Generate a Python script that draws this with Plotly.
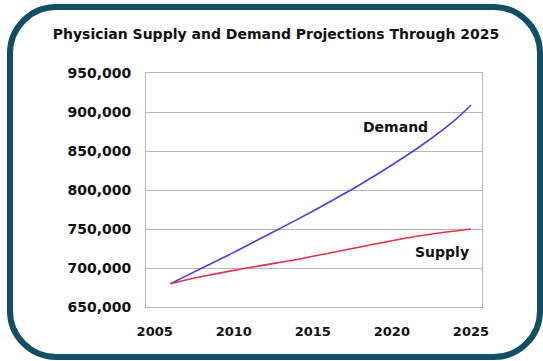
import plotly.graph_objects as go

years_demand = [2006, 2008, 2010, 2012, 2014, 2016, 2018, 2020, 2022, 2024, 2025]
demand = [680000, 700000, 720000, 741000, 762000, 784000, 807000, 832000, 859000, 890000, 909000]
years_supply = [2006, 2008, 2010, 2012, 2014, 2016, 2018, 2020, 2022, 2025]
supply = [680000, 689000, 697000, 704000, 711000, 719000, 727000, 735000, 742000, 750000]
x_ticks = [2005, 2010, 2015, 2020, 2025]
y_ticks = [650000, 700000, 750000, 800000, 850000, 900000, 950000]

W, H = 543, 361
L, R, T, B = 146, 482, 73, 307  # plot area in px

def px(x):
    return (x - L) / (R - L)

def py(y):
    return (B - y) / (B - T)

fig = go.Figure()
fig.add_trace(go.Scatter(x=years_demand, y=demand, mode="lines", line=dict(color="#4444e0", width=1.6, shape="spline", smoothing=1.0), name="Demand", showlegend=False))
fig.add_trace(go.Scatter(x=years_supply, y=supply, mode="lines", line=dict(color="#e83048", width=1.6, shape="spline", smoothing=1.0), name="Supply", showlegend=False))

font_fam = "DejaVu Sans, Verdana, sans-serif"
fig.add_annotation(x=2020.2, y=880500, text="<b>Demand</b>", showarrow=False, font=dict(family=font_fam, size=14, color="#111"))
fig.add_annotation(x=2023.2, y=720700, text="<b>Supply</b>", showarrow=False, font=dict(family=font_fam, size=14, color="#111"))

# rounded border
x0, y0, x1, y1, r = 10, 7, 540, 357, 46
k = 0.45
path = (
    f"M {px(x0+r)} {py(y0)} L {px(x1-r)} {py(y0)} "
    f"C {px(x1-r*k)} {py(y0)} {px(x1)} {py(y0+r*k)} {px(x1)} {py(y0+r)} "
    f"L {px(x1)} {py(y1-r)} "
    f"C {px(x1)} {py(y1-r*k)} {px(x1-r*k)} {py(y1)} {px(x1-r)} {py(y1)} "
    f"L {px(x0+r)} {py(y1)} "
    f"C {px(x0+r*k)} {py(y1)} {px(x0)} {py(y1-r*k)} {px(x0)} {py(y1-r)} "
    f"L {px(x0)} {py(y0+r)} "
    f"C {px(x0)} {py(y0+r*k)} {px(x0+r*k)} {py(y0)} {px(x0+r)} {py(y0)} Z"
)
fig.add_shape(type="path", xref="paper", yref="paper", path=path, line=dict(color="#124e66", width=6), layer="above")

fig.update_layout(
    width=W, height=H,
    margin=dict(l=L, r=W - R, t=T, b=H - B),
    paper_bgcolor="white", plot_bgcolor="white",
    title=dict(text="<b>Physician Supply and Demand Projections Through 2025</b>", x=276 / W, xanchor="center", y=1 - 34 / H, yanchor="middle", font=dict(family=font_fam, size=14, color="#111")),
    font=dict(family=font_fam, color="#111"),
)
fig.update_xaxes(range=[2004.45, 2025.7], tickvals=x_ticks, ticktext=[f"<b>{v}</b>" for v in x_ticks], showgrid=False, zeroline=False,
                 showline=True, linecolor="#b8b8b8", linewidth=1, mirror=True, ticks="", ticklabelstandoff=12,
                 tickfont=dict(family=font_fam, size=13, color="#111"))
fig.update_yaxes(range=[650000, 950000], tickvals=y_ticks, ticktext=[f"<b>{v:,}</b>" for v in y_ticks], showgrid=True, gridcolor="#b8b8b8", gridwidth=1, zeroline=False,
                 showline=True, linecolor="#b8b8b8", linewidth=1, mirror=True, ticks="", ticklabelstandoff=11,
                 tickfont=dict(family=font_fam, size=14, color="#111"))

fig.write_html("out.html", config={"displayModeBar": False},
               post_script="document.body.style.margin='0';document.body.style.overflow='hidden';")
